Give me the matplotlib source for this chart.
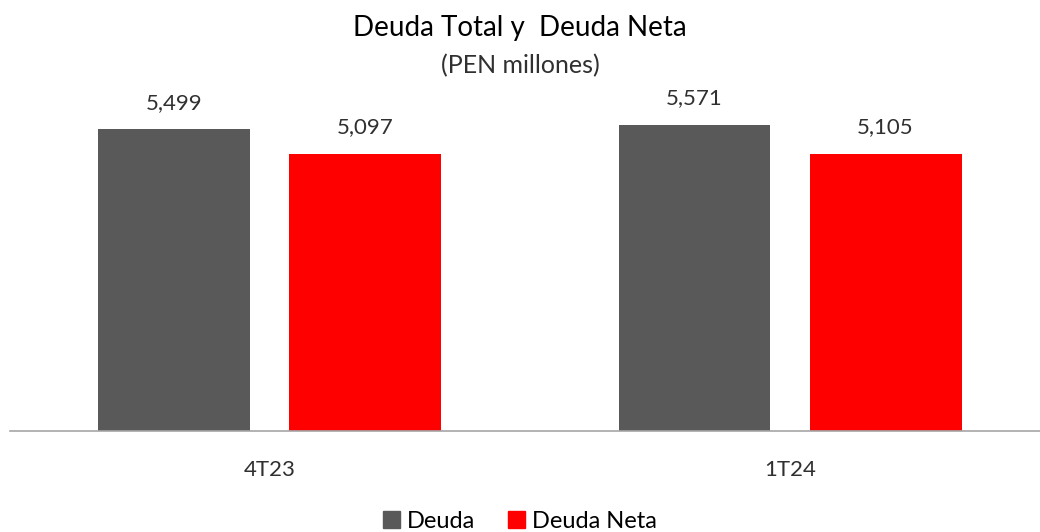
import numpy as np
import matplotlib
matplotlib.use("Agg")
import matplotlib.pyplot as plt
from matplotlib.patches import Patch

# Data
periods = ["4T23", "1T24"]
deuda = [5499, 5571]
deuda_neta = [5097, 5105]
series_names = ["Deuda", "Deuda Neta"]
colors = ["#595959", "#FF0000"]

plt.rcParams.update({
    "font.family": ["Lato", "DejaVu Sans"],
})

TXT = "#303030"

fig = plt.figure(figsize=(10.4, 5.32), dpi=100)
ax = fig.add_axes([10 / 1040, 101 / 532, 1030 / 1040, 330 / 532])

x = np.arange(len(periods))
offset = 0.1835
width = 0.292

for vals, dx, color in [(deuda, -offset, colors[0]), (deuda_neta, offset, colors[1])]:
    bars = ax.bar(x + dx, vals, width=width, color=color)
    for b, v in zip(bars, vals):
        ax.annotate(f"{v:,}", (b.get_x() + b.get_width() / 2, v),
                    xytext=(0, 12), textcoords="offset points",
                    ha="center", va="bottom", fontsize=16, color=TXT)

# value axis in the original does not start at zero
ax.set_xlim(-0.4986, 1.4803)
ax.set_ylim(590, 5960)
ax.set_yticks([])
ax.set_xticks(x)
ax.set_xticklabels(periods, fontsize=16, color=TXT)
ax.tick_params(axis="x", length=0, pad=21)
for side in ["top", "left", "right"]:
    ax.spines[side].set_visible(False)
ax.spines["bottom"].set_color("#A6A6A6")
ax.spines["bottom"].set_linewidth(1.2)

fig.text(0.5, 1 - 28 / 532, "Deuda Total y  Deuda Neta", ha="center", va="center",
         fontsize=20, color="black")
fig.text(0.5, 1 - 66 / 532, "(PEN millones)", ha="center", va="center",
         fontsize=18, color=TXT)

handles = [Patch(color=c) for c in colors]
fig.legend(handles, series_names, loc="center", bbox_to_anchor=(0.5, 1 - 521 / 532),
           ncol=2, frameon=False, handlelength=0.7, handleheight=0.7,
           handletextpad=0.3, columnspacing=1.4, prop={"size": 17})

fig.savefig("out.png", dpi=100)
